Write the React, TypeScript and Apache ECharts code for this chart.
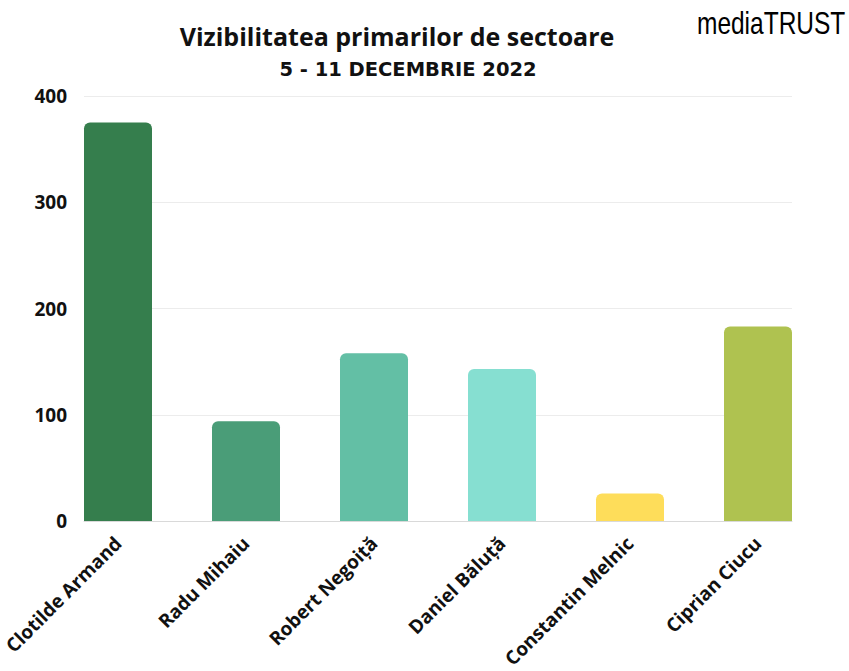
import React, { useEffect, useRef } from "react";
import * as echarts from "echarts";

const categories = [
  "Clotilde Armand",
  "Radu Mihaiu",
  "Robert Negoiță",
  "Daniel Băluță",
  "Constantin Melnic",
  "Ciprian Ciucu",
];
const values = [375, 94, 158, 143, 26, 183];
const barColors = ["#357e4d", "#4a9d78", "#63bfa5", "#86dfd1", "#fedd5a", "#afc250"];
const yTicks = [0, 100, 200, 300, 400];

const titleText = "Vizibilitatea primarilor de sectoare";
const subtitleText = "5 - 11 DECEMBRIE 2022";

export default function App() {
  const ref = useRef<HTMLDivElement>(null);
  useEffect(() => {
    if (!ref.current) return;
    const chart = echarts.init(ref.current, null, { renderer: "svg" });
    const font = "'Open Sans', 'Noto Sans', sans-serif";
    const top = 96;
    const height = 425;
    chart.setOption({
      animation: false,
      backgroundColor: "#ffffff",
      textStyle: { fontFamily: font },
      grid: [
        { left: 84, width: 708, top, height, containLabel: false, outerBoundsMode: "none" },
        { left: 54, width: 768, top, height, containLabel: false, outerBoundsMode: "none" },
      ],
      xAxis: [
        {
          gridIndex: 0,
          type: "value",
          min: 0,
          max: 1,
          axisLine: { show: true, lineStyle: { color: "#d9d9d9", width: 1 } },
          axisTick: { show: false },
          axisLabel: { show: false },
          splitLine: { show: false },
        },
        {
          gridIndex: 1,
          type: "category",
          data: categories,
          axisLine: { show: false },
          axisTick: { show: false },
          axisLabel: {
            interval: 0,
            rotate: 45,
            margin: 19,
            fontFamily: font,
            fontSize: 19,
            fontWeight: "bold",
            color: "#111111",
          },
        },
      ],
      yAxis: [
        {
          gridIndex: 0,
          type: "value",
          min: yTicks[0],
          max: yTicks[yTicks.length - 1],
          interval: 100,
          axisLine: { show: false },
          axisTick: { show: false },
          axisLabel: {
            margin: 17,
            fontFamily: font,
            fontSize: 19,
            fontWeight: "bold",
            color: "#111111",
          },
          splitLine: { lineStyle: { color: "#ececec", width: 1 } },
        },
        {
          gridIndex: 1,
          type: "value",
          min: yTicks[0],
          max: yTicks[yTicks.length - 1],
          show: false,
        },
      ],
      series: [
        {
          type: "bar",
          xAxisIndex: 1,
          yAxisIndex: 1,
          barWidth: 68,
          data: values.map((v, i) => ({
            value: v,
            itemStyle: { color: barColors[i], borderRadius: [6, 6, 0, 0] },
          })),
        },
      ],
      graphic: [
        {
          type: "text",
          x: 397,
          y: 35.5,
          style: {
            text: titleText,
            font: `bold 25px ${font}`,
            fill: "#111111",
            textAlign: "center",
            textVerticalAlign: "middle",
          },
        },
        {
          type: "text",
          x: 408,
          y: 69,
          style: {
            text: subtitleText,
            font: "bold 19.5px 'DejaVu Sans', sans-serif",
            fill: "#111111",
            textAlign: "center",
            textVerticalAlign: "middle",
          },
        },
        {
          type: "text",
          x: 697,
          y: 23,
          scaleX: 0.79,
          style: {
            text: "{a|media}{b|TRUST}",
            textVerticalAlign: "middle",
            rich: {
              a: {
                fontFamily: "'Liberation Sans', Arial, sans-serif",
                fontSize: 31,
                color: "#1a1a1a",
              },
              b: {
                fontFamily: "'Liberation Sans', Arial, sans-serif",
                fontSize: 31,
                color: "#1d5a94",
              },
            },
          },
        },
      ],
    });
    return () => chart.dispose();
  }, []);
  return (
    <div
      ref={ref}
      style={{ position: "absolute", left: 0, top: 0, width: 849, height: 671 }}
    />
  );
}
